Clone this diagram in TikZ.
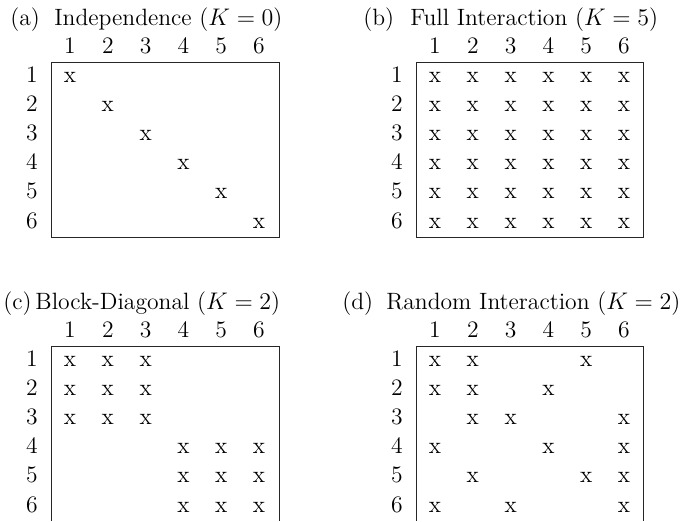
\documentclass[tikz,border=0pt]{standalone}
\begin{document}
\begin{tikzpicture}[x=0.5pt,y=-0.5pt,
  font=\fontsize{11.8}{14}\selectfont,
  lbl/.style={anchor=base,inner sep=0pt},
  ttl/.style={anchor=base west,inner sep=0pt},
  frame/.style={draw=black!85,line width=0.5pt}]
\useasboundingbox (0,0) rectangle (681,521);
% ---------- titles
\node[ttl] (a-tag) at (10,25) {(a)};
\node[ttl] (a-title) at (54,25) {Independence ($K=0$)};
\node[ttl] (b-tag) at (363,25) {(b)};
\node[ttl] (b-title) at (410,25) {Full Interaction ($K=5$)};
\node[ttl] (c-tag) at (3,309) {(c)};
\node[ttl] (c-title) at (35,309) {Block-Diagonal ($K=2$)};
\node[ttl] (d-tag) at (342,309) {(d)};
\node[ttl] (d-title) at (386,309) {Random Interaction ($K=2$)};
% ---------- headers and row labels
\foreach \p/\ox/\oy in {a/0/0,b/365/0,c/0/284,d/365/284}{
  \begin{scope}[shift={(\ox,\oy)}]
    \foreach \c in {1,...,6}
      \node[lbl] (\p-c\c) at ({70+37.8*(\c-1)},53) {\c};
    \foreach \r in {1,...,6}
      \node[lbl] (\p-r\r) at (32,{82+29.2*(\r-1)}) {\r};
  \end{scope}
}
% ---------- frames
\draw[frame] (51,62) rectangle (279,237);
\draw[frame] (416,62) rectangle (643,237);
\draw[frame] (51,521) -- (51,346) -- (279,346) -- (279,521);
\draw[frame] (416,521) -- (416,346) -- (643,346) -- (643,521);
% ---------- entries
\foreach \r/\c in {1/1,2/2,3/3,4/4,5/5,6/6}
  \node[lbl] (a-x\r\c) at ({70+37.8*(\c-1)},{82+29.2*(\r-1)}) {x};
\foreach \r in {1,...,6}
  \foreach \c in {1,...,6}
    \node[lbl] (b-x\r\c) at ({435+37.8*(\c-1)},{82+29.2*(\r-1)}) {x};
\foreach \r/\c in {1/1,1/2,1/3,2/1,2/2,2/3,3/1,3/2,3/3,4/4,4/5,4/6,5/4,5/5,5/6,6/4,6/5,6/6}
  \node[lbl] (c-x\r\c) at ({70+37.8*(\c-1)},{366+29.2*(\r-1)}) {x};
\foreach \r/\c in {1/1,1/2,1/5,2/1,2/2,2/4,3/2,3/3,3/6,4/1,4/4,4/6,5/2,5/5,5/6,6/1,6/3,6/6}
  \node[lbl] (d-x\r\c) at ({435+37.8*(\c-1)},{366+29.2*(\r-1)}) {x};
\end{tikzpicture}
\end{document}
